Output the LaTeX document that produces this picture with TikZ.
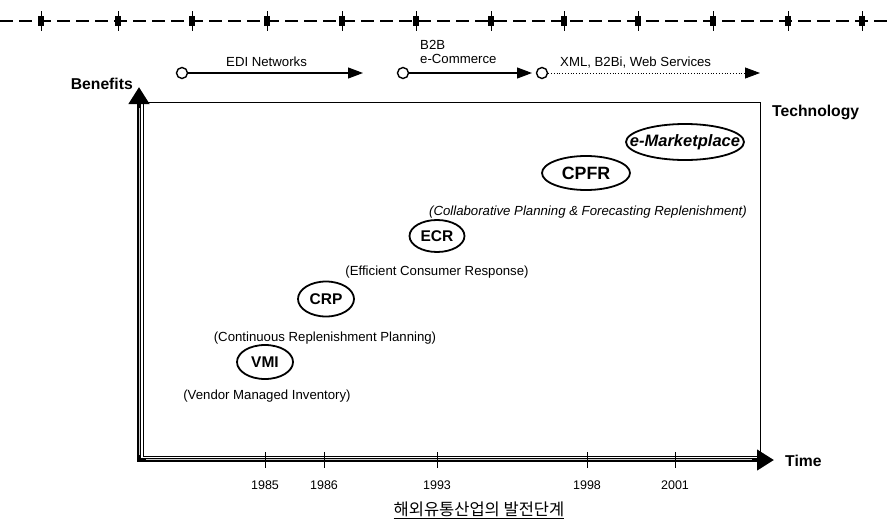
\documentclass[tikz,border=0pt]{standalone}
\usepackage{fontspec}
\setmainfont{Liberation Sans}
\newfontfamily\krfont{Noto Sans CJK KR}
\usetikzlibrary{arrows.meta,shapes.geometric}

\begin{document}
\begin{tikzpicture}[x=1pt,y=-1pt,
  every node/.style={inner sep=0pt},
  era/.style={circle,draw,line width=1.4pt,minimum size=11pt},
  eraarrow/.style={line width=1.1pt,-{Triangle[length=15pt,width=11pt]}},
  eralabel/.style={font=\fontsize{13.2}{14}\selectfont,anchor=west},
  axis/.style={line width=4.5pt,line cap=rect,-{Triangle[length=17pt,width=20pt]}},
  axislabel/.style={font=\fontsize{15.7}{17}\selectfont\bfseries},
  stage/.style={ellipse,draw,line width=1.8pt,font=\fontsize{15.5}{17}\selectfont\bfseries},
  stagenote/.style={font=\fontsize{13.2}{14}\selectfont},
  year/.style={font=\fontsize{12.5}{14}\selectfont},
  yeartick/.style={line width=0.9pt}
]
\useasboundingbox (0,0) rectangle (893,522);

% dashed rule with markers along the top
\draw[line width=1.6pt,dash pattern=on 13pt off 6pt] (0,21) -- (893,21);
\foreach \x in {41,118,192,267,342,416,491,564,638,713,788,862}{
  \draw[line width=0.7pt] (\x,11) -- (\x,31);
  \fill (\x-3,16) rectangle (\x+3,26);
}

% technology eras
\node[era] (edi) at (182,73) {};
\coordinate (ediend) at (363,73);
\draw[eraarrow] (edi) -- (ediend);
\node[eralabel] (edilab) at (226,62) {EDI Networks};

\node[era] (b2b) at (403,73) {};
\coordinate (b2bend) at (532,73);
\draw[eraarrow] (b2b) -- (b2bend);
\node[eralabel] (b2blab) at (420,45) {B2B};
\node[eralabel] (ecomlab) at (420,59) {e-Commerce};

\node[era] (xml) at (542,73) {};
\coordinate (xmlend) at (760,73);
\draw[eraarrow,line width=0.8pt,dotted] (xml) -- (xmlend);
\node[eralabel] (xmllab) at (560,63) {XML, B2Bi, Web Services};

% frame and axes
\draw[line width=0.9pt] (143,102) rectangle (760,456);
\coordinate (origin) at (139,460);
\coordinate (ytip) at (139,87);
\coordinate (xtip) at (774,460);
\draw[axis] (origin) -- (ytip);
\draw[axis] (origin) -- (xtip);
\draw[white,line width=0.6pt,opacity=0.8] (146,459.3) -- (752,459.3);
\draw[white,line width=0.6pt,opacity=0.8] (139.7,455) -- (139.7,108);

\node[axislabel,anchor=east] (benefits) at (133,84) {Benefits};
\node[axislabel,anchor=west] (technology) at (772,112) {Technology};
\node[axislabel,anchor=west] (time) at (785,461) {Time};

% year ticks and labels
\foreach \x/\yr in {265/1985,324/1986,437/1993,587/1998,675/2001}{
  \draw[yeartick] (\x,452) -- (\x,468);
  \node[year] (y\yr) at (\x,485) {\yr};
}

% development stages (ellipse size set independently of the label width)
\node[stage,minimum width=56pt,minimum height=34pt] (vmi) at (265,362) {\makebox[0pt]{VMI}};
\node[stagenote] (vminote) at (267,396) {(Vendor Managed Inventory)};

\node[stage,minimum width=56pt,minimum height=35pt] (crp) at (326,299) {\makebox[0pt]{CRP}};
\node[stagenote] (crpnote) at (325,338) {(Continuous Replenishment Planning)};

\node[stage,minimum width=55pt,minimum height=32pt] (ecr) at (437,236) {\makebox[0pt]{ECR}};
\node[stagenote] (ecrnote) at (437,272) {(Efficient Consumer Response)};

\node[stage,minimum width=88pt,minimum height=34pt,font=\fontsize{17.8}{19}\selectfont\bfseries] (cpfr) at (586,173) {\makebox[0pt]{CPFR}};
\node[stagenote,font=\fontsize{13.2}{14}\selectfont\itshape] (cpfrnote) at (588,212) {(Collaborative Planning \& Forecasting Replenishment)};

\node[stage,minimum width=118pt,minimum height=36pt,font=\fontsize{16.5}{18}\selectfont\bfseries\itshape] (emkt) at (685,142) {\makebox[0pt]{e-Marketplace}};

% caption
\node[font=\krfont\fontsize{16.5}{18}\selectfont] (caption) at (479,510) {\underline{해외유통산업의 발전단계}};
\end{tikzpicture}
\end{document}
